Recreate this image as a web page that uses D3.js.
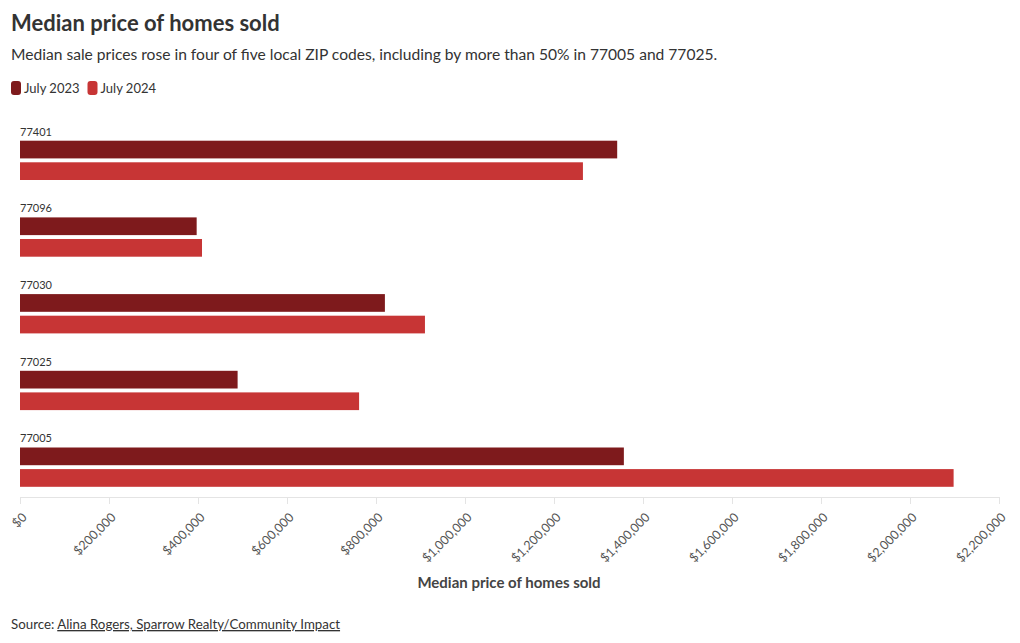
<!DOCTYPE html>
<html><head><meta charset="utf-8">
<script src="https://cdn.jsdelivr.net/npm/d3@7"></script>
<style>
body{margin:0;background:#fff;font-family:"Source Sans Pro","Lato","Open Sans",sans-serif;}
svg text{font-family:"Source Sans Pro","Lato","Open Sans",sans-serif;}
</style></head>
<body>
<svg id="c" width="1020" height="643"></svg>
<script>
const zips = ["77401","77096","77030","77025","77005"];
const seriesNames = ["July 2023","July 2024"];
const july2023 = [1342000, 397000, 820000, 489000, 1357000];
const july2024 = [1265000, 409000, 910000, 762000, 2098000];
const tickValues = [0,200000,400000,600000,800000,1000000,1200000,1400000,1600000,1800000,2000000,2200000];
const colors = ["#7e1a1c","#c73535"];

const svg = d3.select("#c");
const x = d3.scaleLinear().domain([0,2200000]).range([20,999]);
const y0 = d3.scaleBand().domain(zips).range([124,507.5]);
const y1 = d3.scaleBand().domain(seriesNames).range([16.7,56]).paddingInner(0.18);
const values = [july2023, july2024];

// title
svg.append("text").attr("x",11).attr("y",31).attr("font-size",22).attr("font-weight",700).attr("fill","#333").text("Median price of homes sold");
svg.append("text").attr("x",11).attr("y",60).attr("font-size",15.6).attr("fill","#333").text("Median sale prices rose in four of five local ZIP codes, including by more than 50% in 77005 and 77025.");

// legend
const leg = svg.append("g");
let lx = 11;
seriesNames.forEach((s,i)=>{
  leg.append("rect").attr("x",lx).attr("y",81).attr("width",10).attr("height",14).attr("rx",3).attr("fill",colors[i]);
  const t = leg.append("text").attr("x",lx+13).attr("y",93).attr("font-size",13).attr("fill","#333").text(s);
  lx += 13 + t.node().getComputedTextLength() + 8;
});

// axis
const ax = svg.append("g").attr("transform","translate(0,497)")
  .call(d3.axisBottom(x).tickValues(tickValues).tickSize(7).tickFormat(d=>"$"+d3.format(",")(d)));
ax.select(".domain").attr("stroke","#e4e4e4");
ax.selectAll(".tick line").attr("stroke","#e4e4e4");
ax.selectAll(".tick text").attr("font-size",12.5).attr("fill","#555")
  .attr("text-anchor","end").attr("dx",0).attr("dy",0)
  .attr("transform","translate(0,14) rotate(-45)");

svg.append("text").attr("x",509).attr("y",588).attr("text-anchor","middle").attr("font-size",15).attr("font-weight",700).attr("fill","#444").text("Median price of homes sold");

// groups
const g = svg.selectAll("g.grp").data(zips).join("g").attr("class","grp")
  .attr("transform",d=>`translate(0,${y0(d)})`);
g.append("text").attr("x",20).attr("y",11.5).attr("font-size",11).attr("fill","#333").text(d=>d);
g.each(function(z,zi){
  const sel = d3.select(this);
  seriesNames.forEach((s,si)=>{
    sel.append("rect").attr("x",x(0)).attr("y",y1(s)).attr("height",y1.bandwidth())
      .attr("width",x(values[si][zi])-x(0)).attr("fill",colors[si]);
  });
});

// source
const src = svg.append("text").attr("x",11).attr("y",629).attr("font-size",13.3).attr("fill","#333");
src.append("tspan").text("Source: ");
src.append("tspan").attr("text-decoration","underline").text("Alina Rogers, Sparrow Realty/Community Impact");
</script>
</body></html>
